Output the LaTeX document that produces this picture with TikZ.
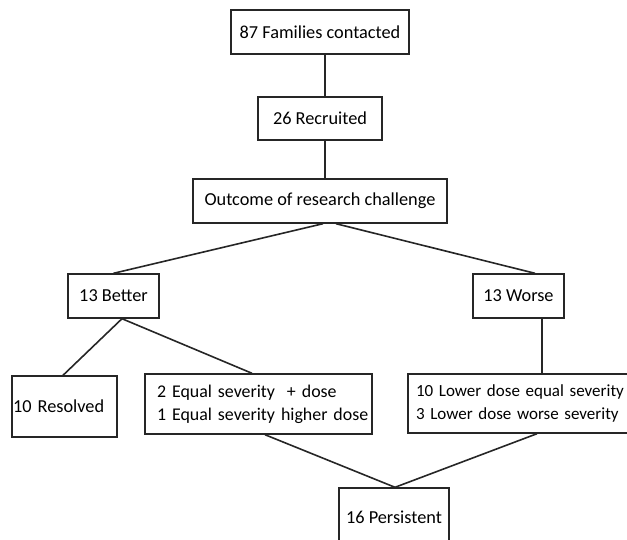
\documentclass[tikz,border=0pt]{standalone}
\usepackage{fontspec}
\setmainfont{Carlito}
\begin{document}
\begin{tikzpicture}[x=1pt,y=-1pt,
  box/.style={draw=black!85, line width=1.4pt, inner sep=0pt, font=\fontsize{18.3}{23}\selectfont},
  link/.style={draw=black!85, line width=1.6pt}]
\useasboundingbox (0,0) rectangle (627,539);
\clip (0,0) rectangle (627,539);
\node[box, minimum width=178, minimum height=44] (fam) at (320,32) {87 Families contacted};
\node[box, minimum width=124, minimum height=43] (rec) at (320,118.5) {26 Recruited};
\node[box, minimum width=254, minimum height=44] (out) at (320,201) {Outcome of research challenge};
\node[box, minimum width=91, minimum height=44] (better) at (113.5,296) {13 Better};
\node[box, minimum width=91, minimum height=44] (worse) at (518.5,296) {13 Worse};
\node[box, minimum width=105, minimum height=61, align=left, text width=103, inner xsep=1pt] (res) at (64.5,406.5) {10 Resolved};
\node[box, minimum height=60, inner xsep=12pt, text width=203, align=left, font=\fontsize{17.9}{23}\selectfont] (eq) at (258.5,404) {\mbox{2 Equal severity \ + dose}\\\mbox{1 Equal severity higher dose}};
\node[box, minimum height=59, inner xsep=8pt, text width=226, align=left, font=\fontsize{17}{23}\selectfont] (low) at (529,403.5) {\mbox{10 Lower dose equal severity}\\\mbox{3 Lower dose worse severity}};
\node[box, minimum width=110, minimum height=58] (pers) at (394,517) {16 Persistent};
\draw[link] ([xshift=5]fam.south) -- ([xshift=5]rec.north);
\draw[link] ([xshift=5]rec.south) -- ([xshift=5]out.north);
\draw[link] ([xshift=3]out.south) -- (better.north);
\draw[link] ([xshift=16]out.south) -- ([xshift=16.5]worse.north);
\draw[link] ([xshift=8.5]better.south) -- ([xshift=-1.5]res.north);
\draw[link] ([xshift=8.5]better.south) -- ([xshift=-6.5]eq.north);
\draw[link] ([xshift=23.5]worse.south) -- ([xshift=13]low.north);
\draw[link] ([xshift=6.5]eq.south) -- ([xshift=1]pers.north);
\draw[link] ([xshift=8]low.south) -- ([xshift=1]pers.north);
\end{tikzpicture}
\end{document}
